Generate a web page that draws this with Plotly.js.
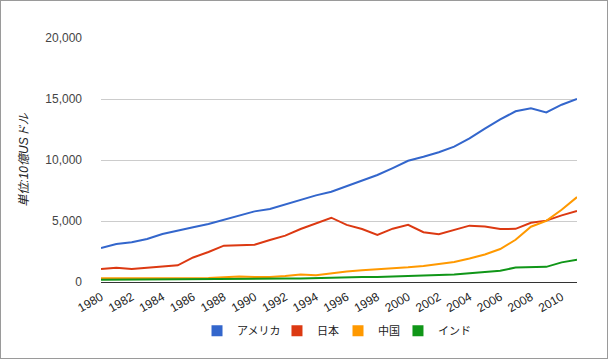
<!DOCTYPE html>
<html>
<head>
<meta charset="utf-8">
<script src="https://cdn.plot.ly/plotly-3.0.1.min.js"></script>
<style>
html,body{margin:0;padding:0;background:#fff;}
#wrap{width:606px;height:357px;border:1px solid #9a9a9a;}
#chart{width:606px;height:357px;}
</style>
</head>
<body>
<div id="wrap"><div id="chart"></div></div>
<script>
const years = [1980,1981,1982,1983,1984,1985,1986,1987,1988,1989,1990,1991,1992,1993,1994,1995,1996,1997,1998,1999,2000,2001,2002,2003,2004,2005,2006,2007,2008,2009,2010,2011];
const usa = [2790,3110,3250,3520,3930,4230,4480,4750,5100,5490,5790,5980,6360,6720,7100,7400,7840,8300,8770,9340,9940,10270,10630,11090,11780,12570,13330,13990,14230,13900,14530,15000];
const japan = [1060,1170,1070,1170,1260,1370,2010,2460,2980,2990,3060,3440,3800,4340,4810,5270,4680,4340,3860,4370,4680,4080,3910,4260,4620,4540,4340,4360,4860,5030,5460,5820];
const china = [300,290,280,310,310,310,300,330,410,460,400,410,490,610,560,730,860,960,1030,1090,1200,1320,1450,1640,1930,2260,2700,3460,4530,5010,5920,6960];
const india = [190,200,210,220,210,230,250,280,300,300,330,280,290,280,330,370,390,420,420,460,470,490,520,620,720,830,930,1180,1230,1240,1610,1820];
const seriesNames = ["アメリカ","日本","中国","インド"];
const seriesColors = ["#3366cc","#dc3912","#ff9900","#109618"];
const yTickVals = [0,5000,10000,15000,20000];
const yTickText = ["0","5,000","10,000","15,000","20,000"];
const xTickVals = [1980,1982,1984,1986,1988,1990,1992,1994,1996,1998,2000,2002,2004,2006,2008,2010];
const yTitle = "単位:10億USドル";

const font = "Arial, 'Liberation Sans', 'Noto Sans CJK JP', sans-serif";
const allY = [usa, japan, china, india];
const legendIds = ['legend', 'legend2', 'legend3', 'legend4'];
const legendX = [0.2017, 0.3697, 0.4979, 0.6239];
const traces = [];
allY.forEach((ys, i) => {
  traces.push({x: years, y: ys, type: 'scatter', mode: 'lines', name: seriesNames[i],
    line: {color: seriesColors[i], width: 2}, showlegend: false, hoverinfo: 'skip'});
});
allY.forEach((ys, i) => {
  traces.push({x: [null], y: [null], type: 'scatter', mode: 'markers', name: seriesNames[i],
    legend: legendIds[i],
    marker: {color: seriesColors[i], symbol: 'square', size: 11}, showlegend: true});
});

const layout = {
  width: 606, height: 357,
  margin: {l: 100, r: 30, t: 37, b: 76},
  paper_bgcolor: '#fff', plot_bgcolor: '#fff',
  font: {family: font, size: 12, color: '#222'},
  showlegend: true,
  xaxis: {range: [1980, 2011], tickvals: xTickVals, tickangle: -30, showgrid: false, automargin: false,
    zeroline: false, showline: false, ticks: '', ticklabelstandoff: 5,
    tickfont: {family: font, size: 12, color: '#222'}},
  yaxis: {range: [0, 20000], tickvals: yTickVals, ticktext: yTickText, showgrid: true, automargin: false,
    gridcolor: '#cccccc', gridwidth: 1, zeroline: true, zerolinecolor: '#333', zerolinewidth: 1,
    showline: false, ticks: '', ticklabelstandoff: 18,
    tickfont: {family: font, size: 12, color: '#444'},
    title: {text: yTitle, font: {family: font, size: 12, color: '#222', style: 'italic'}, standoff: 14}}
};
legendIds.forEach((id, i) => {
  layout[id] = {orientation: 'h', x: legendX[i], xanchor: 'left', y: -0.2, yanchor: 'middle',
    bgcolor: 'rgba(0,0,0,0)', font: {family: font, size: 11, color: '#222'}, itemwidth: 30};
});
Plotly.newPlot('chart', traces, layout, {displayModeBar: false, staticPlot: true});
</script>
</body>
</html>
